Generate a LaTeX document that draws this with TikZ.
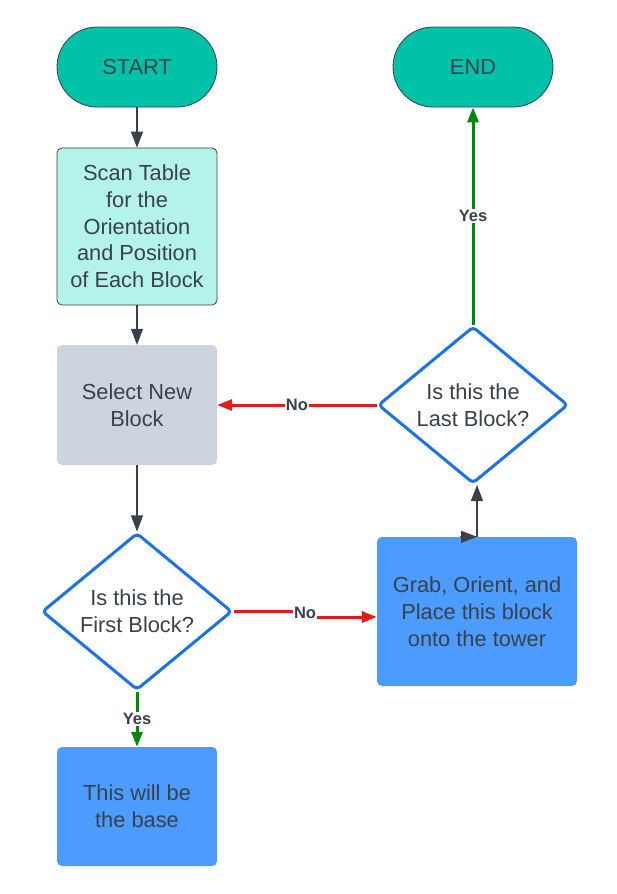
\documentclass[tikz,border=0pt]{standalone}
\usepackage{fontspec}
\setmainfont{Liberation Sans}
\usetikzlibrary{shapes.geometric,arrows.meta}
\definecolor{txt}{HTML}{3A414A}
\definecolor{teal}{HTML}{00C2A8}
\definecolor{lteal}{HTML}{B3F3EA}
\definecolor{lgray}{HTML}{CED4DE}
\definecolor{bfill}{HTML}{4C9BFF}
\definecolor{dblue}{HTML}{1A73E8}
\definecolor{gline}{HTML}{00880F}
\definecolor{rline}{HTML}{E31B1B}
\definecolor{edge}{HTML}{3A414A}
\tikzset{
  base/.style={font=\fontsize{21.8}{26.7}\selectfont, text=txt, align=center, inner sep=0pt},
  term/.style={base, draw=edge, line width=0.8pt, fill=teal, minimum width=160, minimum height=80, rounded corners=40},
  proc/.style={base, rounded corners=5, minimum width=160},
  dec/.style={base, diamond, draw=dblue, line width=3pt, fill=white, minimum width=190, minimum height=157, rounded corners=4},
  dk/.style={draw=edge, line width=1.2pt, -{Triangle[length=16pt,width=12pt]}},
  gr/.style={draw=gline, line width=3pt, -{Triangle[length=15pt,width=11pt]}},
  rd/.style={draw=rline, line width=3pt, -{Triangle[length=15pt,width=11pt]}},
  lbl/.style={font=\bfseries\fontsize{16.5}{19}\selectfont, text=txt, fill=white, inner sep=1pt}
}
\begin{document}
\begin{tikzpicture}[x=1pt,y=-1pt]
\fill[white] (0,0) rectangle (617,894);
\useasboundingbox (0,0) rectangle (617,894);
\node[term] (start) at (137,67) {START};
\node[term] (end) at (473,67) {END};
\node[proc, draw=edge, line width=0.8pt, fill=lteal, minimum height=157] (scan) at (137,226.5) {Scan Table\\for the\\Orientation\\and Position\\of Each Block};
\node[proc, fill=lgray, minimum height=120] (sel) at (137,405) {Select New\\Block};
\node[dec] (d1) at (137,611.5) {Is this the\\First Block?};
\node[proc, fill=bfill, minimum height=119] (bas) at (137,806.5) {This will be\\the base};
\node[proc, fill=bfill, minimum width=200, minimum height=149] (grab) at (477,611.5) {Grab, Orient, and\\Place this block\\onto the tower};
\node[dec] (d2) at (473,405) {Is this the\\Last Block?};

\draw[dk] (start) -- (scan);
\draw[dk] (scan) -- (sel);
\draw[dk] (sel) -- (d1);
\draw[gr] (d1) -- node[lbl] {Yes} (bas);
\node[lbl] (no1) at (305,613) {No};
\draw[draw=rline, line width=3pt] (d1.east) -- (d1.east -| no1.west);
\draw[rd] ([yshift=-5.5pt]grab.west -| no1.east) -- ([yshift=-5.5pt]grab.west);
\draw[dk] (grab.north) -- (grab.north |- d2.south);
\draw[dk] ([xshift=-17pt]grab.north) -- (grab.north);
\draw[rd] (d2.west) -- node[lbl] {No} (sel.east);
\draw[gr] (d2.north) -- node[lbl] {Yes} (end.south);
\end{tikzpicture}
\end{document}
